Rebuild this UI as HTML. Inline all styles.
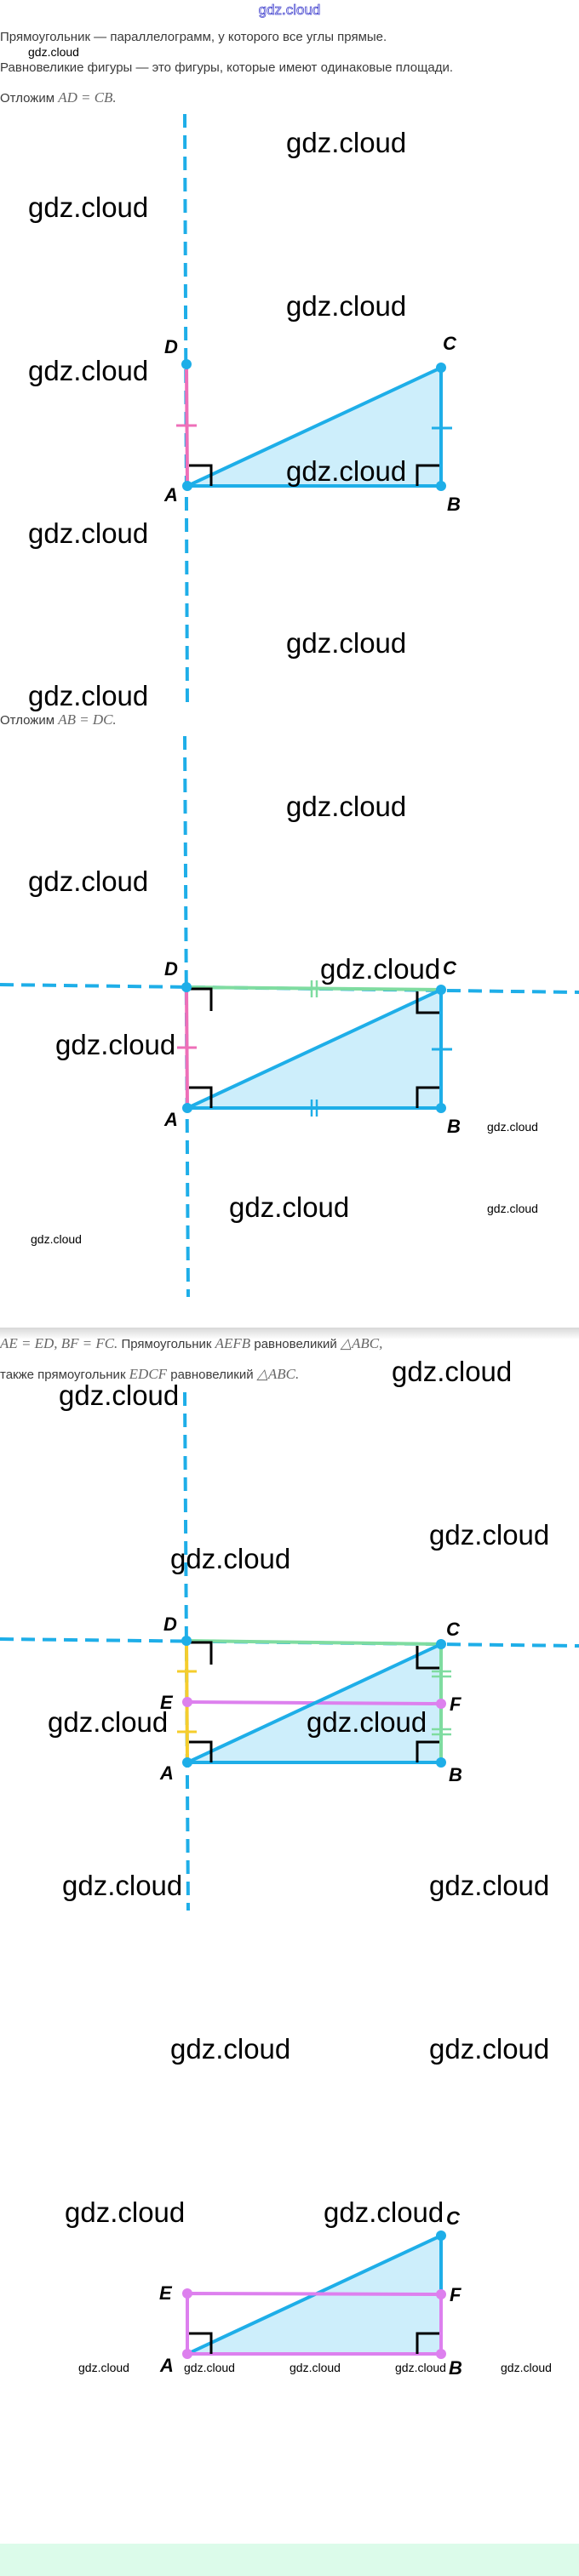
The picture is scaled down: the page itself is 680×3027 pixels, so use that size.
<!DOCTYPE html>
<html><head><meta charset="utf-8"><style>
html,body{margin:0;padding:0;background:#fff;}
svg{display:block;}
.t{font-family:"Liberation Sans",sans-serif;font-size:15px;fill:#3a3a3a;}
.m{font-family:"Liberation Serif",serif;font-style:italic;fill:#666;font-size:17px;}
.w{font-family:"Liberation Sans",sans-serif;font-size:33px;fill:#000;}
.ws{font-family:"Liberation Sans",sans-serif;font-size:14px;fill:#000;}
.l{font-family:"Liberation Sans",sans-serif;font-style:italic;font-weight:bold;font-size:22px;fill:#000;}
.dash{stroke:#1eaee8;stroke-width:4;stroke-dasharray:16 9;fill:none;}
.ra{stroke:#000;stroke-width:3;fill:none;}
</style></head><body>
<svg width="680" height="3027" viewBox="0 0 680 3027" xmlns="http://www.w3.org/2000/svg">
<!-- header -->
<text x="340" y="17" text-anchor="middle" font-family="Liberation Sans,sans-serif" font-size="17" fill="#fff" stroke="#4a4ad0" stroke-width="0.8">gdz.cloud</text>
<text class="t" x="0" y="48">Прямоугольник — параллелограмм, у которого все углы прямые.</text>
<text class="ws" x="33" y="66" font-size="13">gdz.cloud</text>
<text class="t" x="0" y="84">Равновеликие фигуры — это фигуры, которые имеют одинаковые площади.</text>
<text class="t" x="0" y="120">Отложим <tspan class="m">AD</tspan> <tspan class="m" font-style="normal">=</tspan> <tspan class="m">CB.</tspan></text>

<!-- section 1 -->
<line class="dash" x1="217" y1="134" x2="220" y2="831"/>
<polygon points="220,571 518,432 518,571" fill="#cdeefb"/>
<line x1="219" y1="428" x2="220" y2="571" stroke="#ee6fb8" stroke-width="4"/>
<line x1="207" y1="500" x2="231" y2="500" stroke="#ee6fb8" stroke-width="3"/>
<polyline points="220,571 518,432 518,571 220,571" fill="none" stroke="#1eaee8" stroke-width="4"/>
<line x1="507" y1="503" x2="531" y2="503" stroke="#1eaee8" stroke-width="3"/>
<polyline class="ra" points="222,547 248,547 248,571"/>
<polyline class="ra" points="490,571 490,547 516,547"/>
<circle cx="219" cy="428" r="6" fill="#1eaee8"/>
<circle cx="518" cy="432" r="6" fill="#1eaee8"/>
<circle cx="220" cy="571" r="6" fill="#1eaee8"/>
<circle cx="518" cy="571" r="6" fill="#1eaee8"/>
<text class="l" x="193" y="415">D</text>
<text class="l" x="520" y="411">C</text>
<text class="l" x="193" y="589">A</text>
<text class="l" x="525" y="600">B</text>
<text class="w" x="336" y="179">gdz.cloud</text>
<text class="w" x="33" y="255">gdz.cloud</text>
<text class="w" x="336" y="371">gdz.cloud</text>
<text class="w" x="33" y="447">gdz.cloud</text>
<text class="w" x="336" y="565">gdz.cloud</text>
<text class="w" x="33" y="638">gdz.cloud</text>
<text class="w" x="336" y="767">gdz.cloud</text>
<text class="w" x="33" y="829">gdz.cloud</text>
<text class="t" x="0" y="851">Отложим <tspan class="m">AB</tspan> <tspan class="m" font-style="normal">=</tspan> <tspan class="m">DC.</tspan></text>

<!-- section 2 -->
<line class="dash" x1="217" y1="865" x2="221" y2="1524"/>
<line class="dash" x1="0" y1="1157" x2="680" y2="1166"/>
<polygon points="220,1302 518,1163 518,1302" fill="#cdeefb"/>
<line x1="219" y1="1160" x2="518" y2="1163" stroke="#7fdca0" stroke-width="4"/>
<line x1="366" y1="1152" x2="366" y2="1172" stroke="#7fdca0" stroke-width="2.5"/>
<line x1="372" y1="1152" x2="372" y2="1172" stroke="#7fdca0" stroke-width="2.5"/>
<line x1="219" y1="1160" x2="220" y2="1302" stroke="#ee6fb8" stroke-width="4"/>
<line x1="208" y1="1231" x2="231" y2="1231" stroke="#ee6fb8" stroke-width="3"/>
<polyline points="220,1302 518,1163 518,1302 220,1302" fill="none" stroke="#1eaee8" stroke-width="4"/>
<line x1="507" y1="1233" x2="531" y2="1233" stroke="#1eaee8" stroke-width="3"/>
<line x1="366" y1="1292" x2="366" y2="1312" stroke="#1eaee8" stroke-width="2.5"/>
<line x1="372" y1="1292" x2="372" y2="1312" stroke="#1eaee8" stroke-width="2.5"/>
<polyline class="ra" points="222,1162 248,1162 248,1188"/>
<polyline class="ra" points="490,1165 490,1190 516,1190"/>
<polyline class="ra" points="222,1278 248,1278 248,1302"/>
<polyline class="ra" points="490,1302 490,1278 516,1278"/>
<circle cx="219" cy="1160" r="6" fill="#1eaee8"/>
<circle cx="518" cy="1163" r="6" fill="#1eaee8"/>
<circle cx="220" cy="1302" r="6" fill="#1eaee8"/>
<circle cx="518" cy="1302" r="6" fill="#1eaee8"/>
<text class="l" x="193" y="1146">D</text>
<text class="l" x="520" y="1145">C</text>
<text class="l" x="193" y="1323">A</text>
<text class="l" x="525" y="1331">B</text>
<text class="w" x="336" y="959">gdz.cloud</text>
<text class="w" x="33" y="1047">gdz.cloud</text>
<text class="w" x="376" y="1150">gdz.cloud</text>
<text class="w" x="65" y="1239">gdz.cloud</text>
<text class="w" x="269" y="1430">gdz.cloud</text>
<text class="ws" x="572" y="1329" font-size="16">gdz.cloud</text>
<text class="ws" x="572" y="1425" font-size="16">gdz.cloud</text>
<text class="ws" x="36" y="1461" font-size="16">gdz.cloud</text>

<!-- section 3 -->
<defs><linearGradient id="sh" x1="0" y1="0" x2="0" y2="1"><stop offset="0" stop-color="#d8d8d8"/><stop offset="1" stop-color="#fff"/></linearGradient></defs>
<rect x="0" y="1560" width="680" height="14" fill="url(#sh)"/>
<text class="t" x="0" y="1584"><tspan class="m">AE</tspan> <tspan class="m" font-style="normal">=</tspan> <tspan class="m">ED,</tspan>  <tspan class="m">BF</tspan> <tspan class="m" font-style="normal">=</tspan> <tspan class="m">FC.</tspan> Прямоугольник <tspan class="m">AEFB</tspan> равновеликий <tspan class="m">△ABC,</tspan></text>
<text class="t" x="0" y="1620">также прямоугольник <tspan class="m">EDCF</tspan> равновеликий <tspan class="m">△ABC.</tspan></text>
<line class="dash" x1="217" y1="1636" x2="221" y2="2245"/>
<line class="dash" x1="0" y1="1926" x2="680" y2="1934"/>
<polygon points="220,2071 518,1932 518,2071" fill="#cdeefb"/>
<line x1="219" y1="1928" x2="518" y2="1932" stroke="#7fdca0" stroke-width="4"/>
<line x1="518" y1="1932" x2="518" y2="2071" stroke="#7fdca0" stroke-width="4"/>
<line x1="507" y1="1964" x2="530" y2="1964" stroke="#7fdca0" stroke-width="2.5"/>
<line x1="507" y1="1970" x2="530" y2="1970" stroke="#7fdca0" stroke-width="2.5"/>
<line x1="507" y1="2032" x2="530" y2="2032" stroke="#7fdca0" stroke-width="2.5"/>
<line x1="507" y1="2038" x2="530" y2="2038" stroke="#7fdca0" stroke-width="2.5"/>
<line x1="219" y1="1928" x2="220" y2="2071" stroke="#f5cd2c" stroke-width="4"/>
<line x1="208" y1="1964" x2="231" y2="1964" stroke="#f5cd2c" stroke-width="3"/>
<line x1="208" y1="2035" x2="231" y2="2035" stroke="#f5cd2c" stroke-width="3"/>
<line x1="220" y1="2000" x2="518" y2="2002" stroke="#dd80ee" stroke-width="4"/>
<line x1="220" y1="2071" x2="518" y2="1932" stroke="#1eaee8" stroke-width="4"/>
<line x1="220" y1="2071" x2="518" y2="2071" stroke="#1eaee8" stroke-width="4"/>
<polyline class="ra" points="222,1930 248,1930 248,1956"/>
<polyline class="ra" points="490,1934 490,1960 516,1960"/>
<polyline class="ra" points="222,2047 248,2047 248,2071"/>
<polyline class="ra" points="490,2071 490,2047 516,2047"/>
<circle cx="219" cy="1928" r="6" fill="#1eaee8"/>
<circle cx="518" cy="1932" r="6" fill="#1eaee8"/>
<circle cx="220" cy="2000" r="6" fill="#dd80ee"/>
<circle cx="518" cy="2002" r="6" fill="#dd80ee"/>
<circle cx="220" cy="2071" r="6" fill="#1eaee8"/>
<circle cx="518" cy="2071" r="6" fill="#1eaee8"/>
<text class="l" x="192" y="1916">D</text>
<text class="l" x="524" y="1922">C</text>
<text class="l" x="188" y="2008">E</text>
<text class="l" x="528" y="2010">F</text>
<text class="l" x="188" y="2091">A</text>
<text class="l" x="527" y="2093">B</text>
<text class="w" x="460" y="1623">gdz.cloud</text>
<text class="w" x="69" y="1651">gdz.cloud</text>
<text class="w" x="504" y="1815">gdz.cloud</text>
<text class="w" x="200" y="1843">gdz.cloud</text>
<text class="w" x="56" y="2035">gdz.cloud</text>
<text class="w" x="360" y="2035">gdz.cloud</text>
<text class="w" x="73" y="2227">gdz.cloud</text>
<text class="w" x="504" y="2227">gdz.cloud</text>

<!-- section 4 -->
<text class="w" x="200" y="2419">gdz.cloud</text>
<text class="w" x="504" y="2419">gdz.cloud</text>
<text class="w" x="76" y="2611">gdz.cloud</text>
<text class="w" x="380" y="2611">gdz.cloud</text>
<polygon points="220,2766 518,2627 518,2766" fill="#cdeefb"/>
<line x1="220" y1="2766" x2="518" y2="2627" stroke="#1eaee8" stroke-width="4"/>
<line x1="518" y1="2627" x2="518" y2="2696" stroke="#1eaee8" stroke-width="4"/>
<polygon points="220,2695 518,2696 518,2766 220,2766" fill="none" stroke="#dd80ee" stroke-width="4"/>
<polyline class="ra" points="222,2742 248,2742 248,2766"/>
<polyline class="ra" points="490,2766 490,2742 516,2742"/>
<circle cx="518" cy="2627" r="6" fill="#1eaee8"/>
<circle cx="220" cy="2695" r="6" fill="#dd80ee"/>
<circle cx="518" cy="2696" r="6" fill="#dd80ee"/>
<circle cx="220" cy="2766" r="6" fill="#dd80ee"/>
<circle cx="518" cy="2766" r="6" fill="#dd80ee"/>
<text class="l" x="524" y="2614">C</text>
<text class="l" x="187" y="2702">E</text>
<text class="l" x="528" y="2704">F</text>
<text class="l" x="188" y="2787">A</text>
<text class="l" x="527" y="2790">B</text>
<text class="ws" x="92" y="2787">gdz.cloud</text>
<text class="ws" x="216" y="2787">gdz.cloud</text>
<text class="ws" x="340" y="2787">gdz.cloud</text>
<text class="ws" x="464" y="2787">gdz.cloud</text>
<text class="ws" x="588" y="2787">gdz.cloud</text>
<rect x="0" y="2989" width="680" height="38" fill="#dcfbea"/>
</svg>
</body></html>
